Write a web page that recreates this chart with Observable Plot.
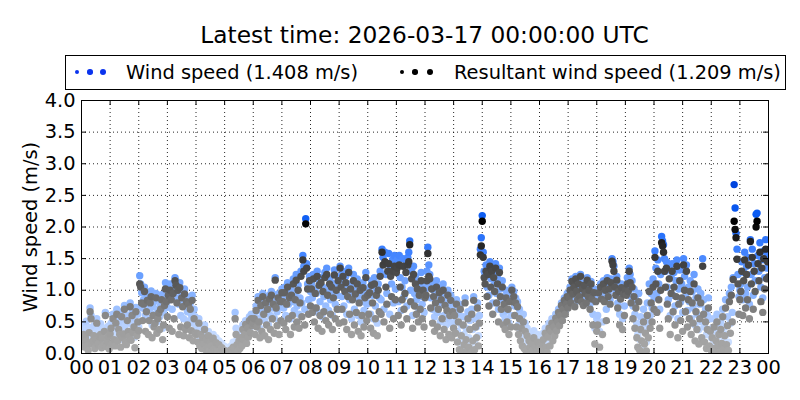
<!DOCTYPE html>
<html>
<head>
<meta charset="utf-8">
<script src="https://cdn.jsdelivr.net/npm/d3@7"></script>
<script src="https://cdn.jsdelivr.net/npm/@observablehq/plot@0.6"></script>
<style>
  body { margin: 0; background: #fff; }
  #wrap { position: relative; width: 800px; height: 400px; font-family: "DejaVu Sans", sans-serif; color: #000; overflow: hidden; }
  #chart { position: absolute; left: 0; top: 0; }
  #title { position: absolute; left: 81px; top: 23px; width: 687px; text-align: center; font-size: 23.3px; line-height: 1; white-space: nowrap; }
  #legend { position: absolute; left: 65px; top: 55px; width: 721px; height: 35px; box-sizing: border-box; border: 1px solid #000; background: #fff; font-size: 19.4px; line-height: 1; }
  .item { position: absolute; top: 7px; white-space: nowrap; }
  .dot { position: absolute; border-radius: 50%; }
</style>
</head>
<body>
<div id="wrap">
  <div id="chart"></div>
  <div id="title"></div>
  <div id="legend"></div>
</div>
<script>
// Latest time of the 24-hour window (UTC)
const latestTime = "2026-03-17 00:00:00 UTC";
const windowStart = Date.UTC(2026, 2, 16, 0, 0, 0);
const stepMinutes = 2; // samples every 2 minutes, first at 00:02, last at 24:00

// Wind speed (m/s), one row per hour (30 samples each)
const windSpeed = [
  0.32,0.45,0.22,0.38,0.51,0.28,0.18,0.41,0.72,0.60,0.35,0.27,0.44,0.19,0.30,0.55,0.38,0.24,0.33,0.47,0.29,0.36,0.21,0.40,0.65,0.31,0.26,0.43,0.34,0.39,
  0.48,0.30,0.62,0.41,0.25,0.55,0.70,0.36,0.44,0.58,0.22,0.66,0.50,0.38,0.76,0.45,0.29,0.60,0.52,0.34,0.80,0.47,0.68,0.40,0.57,0.26,0.73,0.49,0.62,0.42,
  1.23,1.10,0.96,0.72,0.85,1.05,0.60,0.78,0.92,0.55,0.68,0.88,0.99,0.45,0.74,0.82,0.62,0.95,0.50,0.70,0.86,0.58,0.77,0.93,0.40,0.65,0.84,1.12,0.90,0.73,
  1.00,0.85,1.10,0.92,0.70,1.05,0.96,1.20,1.15,0.88,1.08,0.78,1.12,0.60,0.95,0.82,0.55,1.02,0.74,0.90,0.66,0.86,0.52,0.80,0.62,0.92,0.48,0.70,0.58,0.45,
  0.42,0.30,0.55,0.25,0.38,0.20,0.33,0.28,0.45,0.18,0.30,0.24,0.35,0.15,0.27,0.22,0.12,0.30,0.18,0.10,0.25,0.14,0.08,0.20,0.12,0.06,0.16,0.09,0.04,0.11,
  0.05,0.02,0.08,0.03,0.10,0.04,0.12,0.06,0.18,0.15,0.65,0.40,0.22,0.10,0.28,0.16,0.34,0.20,0.45,0.30,0.38,0.52,0.25,0.48,0.35,0.58,0.42,0.62,0.50,0.56,
  0.62,0.48,0.75,0.55,0.90,0.68,0.40,0.82,0.58,0.95,0.70,0.52,0.86,0.64,0.78,0.45,0.92,0.60,0.98,0.72,0.85,0.56,1.20,0.80,0.66,0.94,0.50,0.88,0.74,1.02,
  0.90,0.72,1.05,0.60,0.85,1.12,0.78,0.95,0.55,1.00,0.82,1.18,0.68,0.92,1.25,0.75,1.08,0.62,0.88,1.30,0.80,1.55,1.38,0.70,2.13,1.42,1.10,0.85,1.22,0.98,
  1.10,0.88,1.25,0.72,1.02,0.95,1.30,0.65,1.15,0.82,1.20,0.58,1.05,0.90,1.28,0.75,1.35,1.00,0.68,1.18,0.85,1.12,0.60,0.96,1.32,0.78,1.08,0.92,1.22,0.70,
  1.38,1.15,0.90,1.30,0.75,1.05,1.22,0.62,0.98,1.35,0.85,1.10,0.55,0.95,1.25,0.70,1.02,0.88,1.18,0.60,0.92,1.08,0.50,0.82,1.12,0.68,0.96,1.28,0.78,1.00,
  0.80,1.05,0.62,1.15,0.92,0.55,1.20,0.75,1.00,0.48,1.10,0.88,1.30,0.85,1.65,1.52,0.70,1.60,1.25,0.95,1.42,1.58,0.62,1.35,1.10,1.48,0.80,1.55,1.02,1.45,
  1.48,0.82,1.55,1.20,0.68,1.05,1.50,0.90,1.15,1.40,0.75,1.52,1.60,1.78,1.00,1.30,0.60,1.38,0.95,1.22,0.85,1.15,0.72,1.05,0.90,1.28,0.78,1.12,0.65,1.00,
  1.05,1.30,1.68,1.40,1.25,0.88,1.12,0.70,1.00,0.58,0.92,1.15,0.65,0.85,1.05,0.50,0.95,0.78,1.10,0.60,0.88,0.45,0.82,1.00,0.55,0.75,0.92,0.48,0.80,0.62,
  0.72,0.50,0.85,0.35,0.62,0.20,0.78,0.45,0.12,0.58,0.30,0.88,0.40,0.15,0.66,0.25,0.52,0.08,0.70,0.38,0.90,0.18,0.55,0.42,0.80,0.28,0.60,1.65,1.83,2.18,
  1.60,1.30,1.25,1.40,1.05,1.32,0.92,1.45,1.18,1.38,0.80,1.28,1.10,1.42,0.95,1.20,0.70,1.35,1.02,0.85,1.15,0.62,0.90,0.55,1.00,0.68,0.82,0.48,0.92,0.60,
  1.05,0.90,0.98,0.75,0.88,0.60,0.82,0.45,0.70,0.35,0.55,0.28,0.62,0.20,0.48,0.15,0.40,0.10,0.32,0.22,0.08,0.28,0.14,0.36,0.05,0.20,0.12,0.30,0.06,0.18,
  0.10,0.25,0.05,0.32,0.15,0.40,0.20,0.08,0.35,0.48,0.22,0.42,0.55,0.30,0.50,0.38,0.62,0.45,0.58,0.70,0.52,0.66,0.80,0.60,0.75,0.88,0.68,0.82,0.95,0.78,
  0.92,1.05,0.85,1.18,0.98,1.10,0.80,1.22,1.02,0.90,1.15,0.95,1.25,0.88,1.08,0.82,1.12,1.00,0.86,1.20,0.96,1.06,0.78,1.14,0.92,0.62,1.02,0.40,0.88,0.55,
  0.60,1.02,0.35,1.10,0.92,0.50,1.15,0.88,1.05,0.70,1.20,0.95,1.08,0.85,1.18,1.50,1.45,1.38,1.12,0.98,1.22,0.80,1.05,0.62,0.92,1.10,0.55,1.00,0.75,1.08,
  1.00,1.20,1.05,1.35,1.25,0.90,1.15,0.75,1.02,0.62,0.85,0.48,0.30,0.95,0.22,0.58,0.40,0.12,0.70,0.35,0.52,0.18,0.80,0.45,1.10,0.60,0.95,0.72,1.18,0.88,
  1.62,1.35,0.95,1.48,1.10,0.70,1.25,1.85,1.78,1.72,1.50,1.30,1.45,1.05,0.85,1.38,0.60,1.20,1.42,0.92,1.28,0.75,1.15,1.48,0.55,1.02,1.32,0.82,1.10,0.65,
  1.50,1.22,0.90,1.40,0.68,1.05,0.82,1.15,0.55,0.98,0.72,1.25,0.45,0.88,0.62,1.02,0.38,0.78,0.95,0.50,1.50,0.85,0.42,0.70,0.30,0.60,0.88,0.35,0.55,0.25,
  0.40,0.22,0.55,0.15,0.35,0.62,0.28,0.45,0.10,0.50,0.32,0.70,0.20,0.42,0.85,0.30,0.58,0.18,0.95,0.48,1.05,0.65,1.20,2.67,2.30,1.90,1.65,1.25,0.90,1.00,
  1.10,1.45,0.85,1.28,1.60,0.95,1.38,1.05,1.52,0.78,1.80,1.25,1.65,0.92,1.42,1.15,2.20,2.22,1.55,1.30,1.75,1.05,1.48,0.88,1.62,1.20,1.80,1.35,1.55,1.408
];

// Resultant wind speed (m/s), same sample times
const resultantSpeed = [
  0.18,0.30,0.10,0.25,0.20,0.12,0.05,0.33,0.66,0.55,0.15,0.20,0.28,0.08,0.22,0.48,0.14,0.16,0.26,0.30,0.09,0.24,0.13,0.35,0.60,0.11,0.19,0.27,0.07,0.31,
  0.40,0.15,0.55,0.22,0.12,0.48,0.62,0.20,0.38,0.30,0.10,0.58,0.25,0.31,0.70,0.18,0.14,0.52,0.35,0.27,0.74,0.21,0.60,0.33,0.42,0.09,0.66,0.28,0.50,0.36,
  1.10,1.05,0.80,0.52,0.78,0.98,0.35,0.66,0.84,0.30,0.52,0.80,0.90,0.25,0.60,0.42,0.48,0.88,0.32,0.55,0.64,0.38,0.70,0.85,0.22,0.45,0.76,1.02,0.82,0.58,
  0.92,0.40,1.00,0.85,0.35,0.95,0.55,1.15,1.08,0.80,1.00,0.30,1.04,0.42,0.88,0.74,0.28,0.94,0.38,0.82,0.45,0.78,0.25,0.70,0.36,0.84,0.20,0.55,0.32,0.30,
  0.32,0.18,0.48,0.12,0.30,0.08,0.25,0.15,0.38,0.06,0.22,0.10,0.28,0.04,0.18,0.12,0.03,0.24,0.07,0.02,0.17,0.05,0.01,0.14,0.04,0.00,0.09,0.02,0.00,0.05,
  0.01,0.00,0.03,0.00,0.04,0.01,0.06,0.02,0.10,0.08,0.55,0.30,0.14,0.04,0.20,0.08,0.25,0.12,0.38,0.22,0.30,0.46,0.16,0.40,0.26,0.52,0.33,0.55,0.44,0.48,
  0.55,0.30,0.68,0.42,0.84,0.50,0.25,0.76,0.35,0.90,0.62,0.28,0.80,0.45,0.70,0.22,0.86,0.38,0.92,0.55,0.78,0.32,1.16,0.72,0.44,0.88,0.30,0.82,0.52,0.96,
  0.82,0.48,0.96,0.38,0.78,1.05,0.55,0.88,0.30,0.92,0.60,1.10,0.42,0.85,1.16,0.50,1.00,0.40,0.80,1.22,0.58,1.48,1.30,0.45,2.05,1.35,1.02,0.62,1.15,0.75,
  1.02,0.65,1.18,0.50,0.95,0.72,1.22,0.40,1.08,0.60,1.12,0.35,0.98,0.66,1.20,0.52,1.25,0.92,0.45,1.10,0.62,1.05,0.38,0.88,1.24,0.55,1.00,0.70,1.15,0.48,
  1.35,1.05,0.70,1.22,0.50,0.98,1.12,0.38,0.90,1.28,0.62,1.02,0.30,0.85,1.15,0.45,0.94,0.65,1.10,0.35,0.80,1.00,0.28,0.60,1.04,0.42,0.88,1.20,0.52,0.92,
  0.62,0.96,0.40,1.08,0.80,0.32,1.10,0.55,0.92,0.28,1.00,0.66,1.22,0.62,1.60,1.40,0.50,1.45,1.05,0.78,1.30,1.42,0.40,1.22,0.90,1.30,0.55,1.38,0.85,1.28,
  1.35,0.60,1.40,1.05,0.45,0.85,1.38,0.70,0.95,1.28,0.55,1.40,1.45,1.72,0.82,1.18,0.40,1.25,0.75,1.10,0.62,1.02,0.50,0.92,0.70,1.15,0.55,1.00,0.42,0.88,
  0.92,1.15,1.58,1.22,1.18,0.72,1.02,0.48,0.90,0.35,0.80,1.05,0.42,0.70,0.96,0.28,0.85,0.55,1.00,0.38,0.76,0.22,0.68,0.92,0.30,0.60,0.84,0.25,0.66,0.40,
  0.60,0.32,0.78,0.18,0.50,0.06,0.70,0.28,0.03,0.45,0.14,0.80,0.22,0.04,0.55,0.10,0.38,0.01,0.62,0.20,0.84,0.06,0.42,0.25,0.72,0.12,0.48,1.56,1.70,2.09,
  1.52,1.20,1.10,1.30,0.90,1.25,0.75,1.38,1.05,1.30,0.62,1.20,0.98,1.35,0.80,1.10,0.50,1.28,0.90,0.70,1.05,0.45,0.78,0.38,0.88,0.50,0.70,0.30,0.82,0.42,
  1.00,0.82,0.90,0.60,0.80,0.42,0.74,0.30,0.55,0.20,0.40,0.12,0.50,0.08,0.35,0.04,0.28,0.02,0.20,0.10,0.01,0.16,0.05,0.25,0.00,0.10,0.03,0.18,0.00,0.08,
  0.03,0.15,0.01,0.22,0.06,0.32,0.10,0.02,0.26,0.40,0.12,0.35,0.48,0.20,0.42,0.28,0.56,0.36,0.50,0.65,0.44,0.60,0.76,0.52,0.70,0.84,0.62,0.78,0.90,0.72,
  0.88,1.00,0.80,1.14,0.94,1.05,0.74,1.18,0.98,0.85,1.10,0.90,1.22,0.82,1.02,0.76,1.08,0.95,0.80,1.16,0.90,1.00,0.70,1.10,0.86,0.45,0.96,0.15,0.82,0.35,
  0.45,0.96,0.10,1.05,0.86,0.30,1.10,0.82,1.00,0.52,1.15,0.90,1.02,0.78,1.12,1.46,1.40,1.30,1.05,0.92,1.16,0.72,0.98,0.45,0.86,1.04,0.38,0.94,0.60,1.00,
  0.92,1.10,0.98,1.30,1.12,0.80,1.05,0.55,0.90,0.40,0.72,0.25,0.10,0.82,0.05,0.38,0.20,0.02,0.50,0.15,0.32,0.04,0.60,0.25,0.98,0.40,0.80,0.50,1.05,0.70,
  1.52,1.10,0.65,1.30,0.85,0.40,1.00,1.75,1.70,1.60,1.30,1.05,1.35,0.78,0.55,1.18,0.30,0.95,1.30,0.66,1.05,0.45,0.90,1.38,0.25,0.78,1.15,0.52,0.88,0.35,
  1.40,1.00,0.66,1.30,0.42,0.85,0.55,0.98,0.30,0.80,0.48,1.10,0.20,0.66,0.38,0.88,0.15,0.55,0.80,0.25,1.38,0.62,0.18,0.50,0.08,0.38,0.72,0.12,0.35,0.05,
  0.25,0.08,0.42,0.04,0.20,0.50,0.12,0.30,0.02,0.38,0.16,0.58,0.06,0.28,0.72,0.14,0.44,0.05,0.82,0.32,0.92,0.50,1.17,2.09,1.96,1.83,1.49,1.10,0.62,0.85,
  0.98,1.30,0.60,1.15,1.48,0.72,1.25,0.85,1.40,0.55,1.77,1.10,1.52,0.70,1.30,0.98,2.00,2.09,1.42,1.15,1.60,0.82,1.35,0.65,1.50,1.02,1.65,1.18,1.45,1.209
];

// Axis ticks
const yTicks = [0.0, 0.5, 1.0, 1.5, 2.0, 2.5, 3.0, 3.5, 4.0];
const seriesNames = ["Wind speed", "Resultant wind speed"];

const start = new Date(windowStart);
const end = new Date(windowStart + 24 * 3600 * 1000);
const hourTicks = d3.utcHour.range(start, new Date(+end + 1));

const toRows = (arr) => arr.map((v, i) => ({ time: new Date(windowStart + (i + 1) * stepMinutes * 60000), value: v }));
const windRows = toRows(windSpeed);
const resRows = toRows(resultantSpeed);

// colour ramps by value (light for calm, dark for strong)
const blueRamp = d3.scaleLinear()
  .domain([0, 0.4, 0.8, 1.2, 1.6, 2.2, 2.7])
  .range(["#d6e6ff", "#bcd4ff", "#93baff", "#6ea2ff", "#3f82ff", "#0b5cf2", "#0044dd"])
  .clamp(true);
const grayRamp = d3.scaleLinear()
  .domain([0, 0.3, 0.6, 1.0, 1.5, 2.1])
  .range(["#a8a8a8", "#a0a0a0", "#888888", "#5e5e5e", "#3a3a3a", "#000000"])
  .clamp(true);

const chart = Plot.plot({
  width: 800,
  height: 400,
  marginLeft: 81,
  marginRight: 32,
  marginTop: 100,
  marginBottom: 47,
  style: { fontFamily: "DejaVu Sans, sans-serif", fontSize: "19.4px", background: "white", color: "black" },
  x: { type: "utc", domain: [start, end] },
  y: { domain: [0, 4] },
  color: { type: "identity" },
  marks: [
    Plot.gridX(hourTicks, { stroke: "#000", strokeOpacity: 0.85, strokeDasharray: "1,3" }),
    Plot.gridY(yTicks, { stroke: "#000", strokeOpacity: 0.85, strokeDasharray: "1,3" }),
    Plot.dot(windRows, { x: "time", y: "value", r: 3.7, fill: d => blueRamp(d.value), stroke: null, clip: true }),
    Plot.dot(resRows, { x: "time", y: "value", r: 3.7, fill: d => grayRamp(d.value), stroke: null, clip: true }),
    // inward tick marks on all four sides
    Plot.ruleX(hourTicks, { stroke: "#000", insetTop: 248 }),
    Plot.ruleX(hourTicks, { stroke: "#000", insetBottom: 248 }),
    Plot.ruleY(yTicks, { stroke: "#000", insetLeft: 682 }),
    Plot.ruleY(yTicks, { stroke: "#000", insetRight: 682 }),
    Plot.frame({ stroke: "#000" }),
    Plot.axisX(hourTicks, { tickSize: 0, tickPadding: 7, tickFormat: d3.utcFormat("%H"), label: null, fontSize: 19.4 }),
    Plot.axisY(yTicks, { tickSize: 0, tickPadding: 6, tickFormat: d3.format(".1f"), fontSize: 19.4,
      label: "Wind speed (m/s)", labelAnchor: "center", labelOffset: 58, labelArrow: "none" })
  ]
});
document.getElementById("chart").appendChild(chart);

document.getElementById("title").textContent = "Latest time: " + latestTime;

const fmt = d3.format(".3f");
const legend = document.getElementById("legend");
const legendItems = [
  { name: seriesNames[0], value: windSpeed[windSpeed.length - 1], color: "#0a33ee", dots: [11, 24, 37], text: 60 },
  { name: seriesNames[1], value: resultantSpeed[resultantSpeed.length - 1], color: "#000000", dots: [336, 349, 364], text: 388 }
];
const dotSizes = [4.5, 5.5, 6.5];
legendItems.forEach(item => {
  item.dots.forEach((cx, k) => {
    const d = document.createElement("div");
    d.className = "dot";
    const s = dotSizes[k];
    d.style.width = s + "px";
    d.style.height = s + "px";
    d.style.left = (cx - s / 2) + "px";
    d.style.top = (16 - s / 2) + "px";
    d.style.background = item.color;
    legend.appendChild(d);
  });
  const t = document.createElement("div");
  t.className = "item";
  t.style.left = item.text + "px";
  t.textContent = `${item.name} (${fmt(item.value)} m/s)`;
  legend.appendChild(t);
});
</script>
</body>
</html>
